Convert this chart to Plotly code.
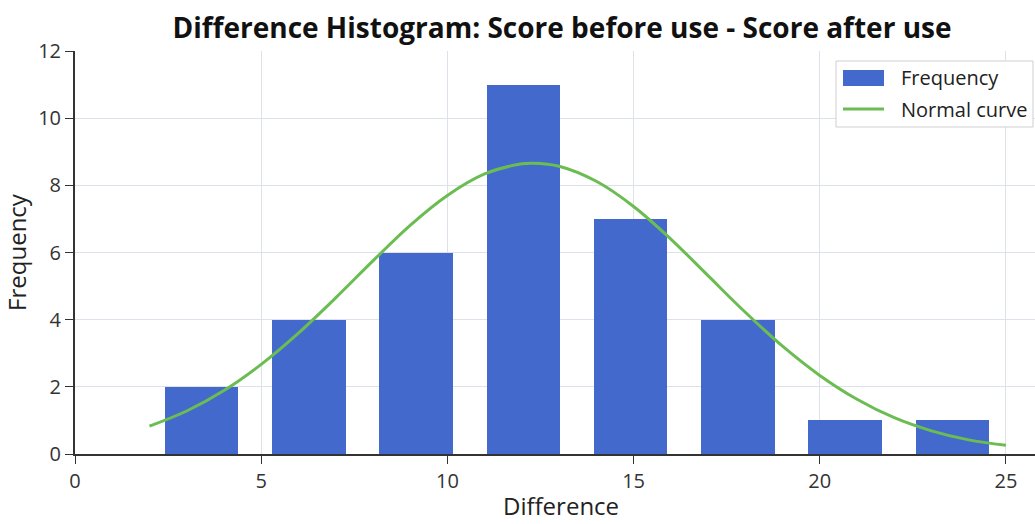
import plotly.graph_objects as go

# Histogram bins (centers) and counts
bin_centers = [3.4, 6.28, 9.16, 12.04, 14.92, 17.8, 20.68, 23.56]
counts = [2, 4, 6, 11, 7, 4, 1, 1]

# Normal curve points
curve_x = [2, 3, 4, 5, 6, 7, 8, 9, 10, 11, 12, 12.3, 13, 14, 15, 16, 17, 18, 19, 20, 21, 22, 23, 24, 25]
curve_y = [0.83, 1.28, 1.89, 2.67, 3.60, 4.65, 5.75, 6.81, 7.70, 8.34, 8.64, 8.66, 8.57, 8.12, 7.37,
           6.40, 5.31, 4.22, 3.21, 2.34, 1.63, 1.08, 0.69, 0.42, 0.26]

x_ticks = [0, 5, 10, 15, 20, 25]
y_ticks = [0, 2, 4, 6, 8, 10, 12]

legend_labels = ["Frequency", "Normal curve"]
x_title = "Difference"
y_title = "Frequency"

font = "Open Sans, Noto Sans, sans-serif"
BAR_COLOR = "#4469cc"
LINE_COLOR = "#6bbd52"

fig = go.Figure()
fig.add_trace(go.Bar(x=bin_centers, y=counts, width=1.97, name=legend_labels[0],
                     marker=dict(color=BAR_COLOR, line=dict(width=0)), showlegend=False))
fig.add_trace(go.Scatter(x=curve_x, y=curve_y, mode="lines", name=legend_labels[1],
                         line=dict(color=LINE_COLOR, width=3, shape="spline"), showlegend=False))

# plot area: left 75, right 1035, top 51, bottom 454 (pixels)
def px(x):
    return (x - 75) / 960.0

def py(y):
    return (454 - y) / 403.0

shapes = [
    dict(type="rect", xref="paper", yref="paper", x0=px(836), x1=px(1033), y0=py(127), y1=py(61),
         line=dict(color="#cfcfcf", width=1), fillcolor="white", layer="above"),
    dict(type="rect", xref="paper", yref="paper", x0=px(843), x1=px(884), y0=py(86), y1=py(70),
         line=dict(width=0), fillcolor=BAR_COLOR, layer="above"),
    dict(type="line", xref="paper", yref="paper", x0=px(843), x1=px(884), y0=py(109), y1=py(109),
         line=dict(color=LINE_COLOR, width=3), layer="above"),
]
annotations = [
    dict(text=legend_labels[0], xref="paper", yref="paper", x=px(899), y=py(78),
         xanchor="left", yanchor="middle", showarrow=False, font=dict(size=20, color="#222", family=font)),
    dict(text=legend_labels[1], xref="paper", yref="paper", x=px(899), y=py(109),
         xanchor="left", yanchor="middle", showarrow=False, font=dict(size=20, color="#222", family=font)),
    dict(text=x_title, xref="paper", yref="paper", x=px(561), y=py(506),
         xanchor="center", yanchor="middle", showarrow=False, font=dict(size=24, color="#222", family=font)),
]

fig.update_layout(
    width=1035, height=524,
    margin=dict(l=75, r=0, t=51, b=70),
    paper_bgcolor="white", plot_bgcolor="white",
    font=dict(family=font, color="#222"),
    title=dict(text="<b>Difference Histogram: Score before use - Score after use</b>",
               x=0.543, xanchor="center", y=0.947, yanchor="middle",
               font=dict(size=28, color="#111", family=font)),
    showlegend=False,
    bargap=0,
    shapes=shapes,
    annotations=annotations,
)
fig.update_xaxes(range=[0, 25.78], tickvals=x_ticks, ticks="outside", ticklen=8,
                 tickcolor="#333", showline=True, linecolor="#333", linewidth=2,
                 showgrid=True, gridcolor="#dde1e9", gridwidth=1, zeroline=False,
                 tickfont=dict(size=20, color="#333"), automargin=False)
fig.update_yaxes(range=[0, 12], tickvals=y_ticks, ticks="outside", ticklen=8,
                 tickcolor="#333", showline=True, linecolor="#333", linewidth=2,
                 showgrid=True, gridcolor="#dde1e9", gridwidth=1, zeroline=False,
                 tickfont=dict(size=20, color="#333"), automargin=False,
                 title=dict(text=y_title, font=dict(size=24, color="#222")))

fig.write_html("out.html", config={"displayModeBar": False},
               post_script="document.body.style.margin='0';document.body.style.overflow='hidden';")
